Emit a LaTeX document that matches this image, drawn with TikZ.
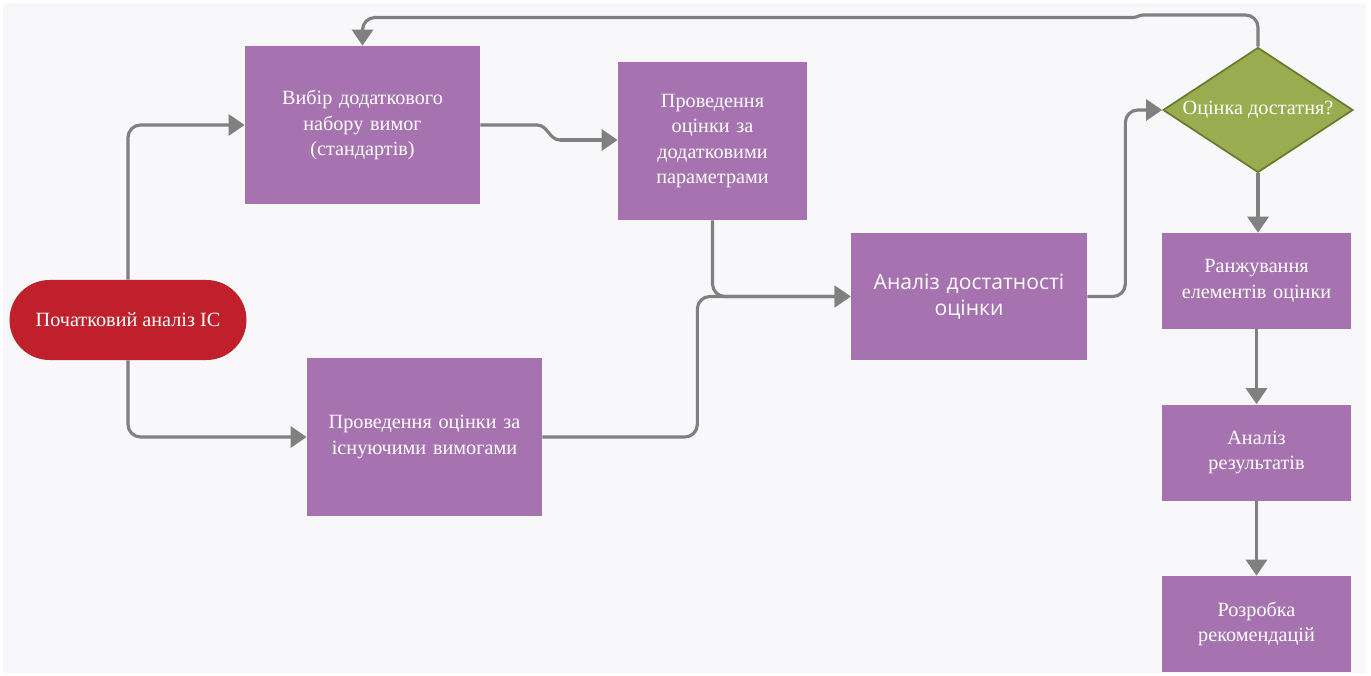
\documentclass[tikz,border=0pt]{standalone}
\usepackage{fontspec}
\setmainfont{Liberation Serif}
\newfontfamily\sansfam{Open Sans}
\usetikzlibrary{arrows.meta, shapes.geometric}
\definecolor{bgcol}{HTML}{F8F8FA}
\definecolor{boxcol}{HTML}{A673B0}
\definecolor{startcol}{HTML}{C0202C}
\definecolor{diacol}{HTML}{9AAC50}
\definecolor{diaedge}{HTML}{6B7A2E}
\definecolor{linecol}{HTML}{808080}

\begin{document}
\begin{tikzpicture}[
        procbox/.style={fill=boxcol, draw=none, text=white, align=center, inner sep=2pt,
            font=\fontsize{11.5}{14.5}\selectfont},
        flow/.style={draw=linecol, line width=1.8pt, rounded corners=0.25cm,
            -{Triangle[length=0.32cm, width=0.42cm]}},
        link/.style={draw=linecol, line width=1.8pt, rounded corners=0.25cm}
    ]
        \useasboundingbox (0,0) rectangle (27.42,13.5);
        \fill[bgcol] (0.06,0.04) rectangle (27.32,13.44);
        \node[fill=startcol, text=white, rounded corners=0.8cm, minimum width=4.74cm, minimum height=1.6cm,
            font=\fontsize{11.5}{14}\selectfont] (start) at (2.56,7.1) {Початковий аналіз IC};
        \node[procbox, minimum width=4.7cm, minimum height=3.16cm, text width=3.8cm] (extra) at (7.25,11.0)
            {Вибір додаткового\\набору вимог\\(стандартів)};
        \node[procbox, minimum width=3.78cm, minimum height=3.16cm, text width=3.4cm] (extraeval) at (14.25,10.68)
            {Проведення\\оцінки за\\додатковими\\параметрами};
        \node[procbox, minimum width=4.7cm, minimum height=3.16cm, text width=4.4cm] (curreval) at (8.49,4.76)
            {Проведення оцінки за\\існуючими вимогами};
        \node[procbox, minimum width=4.72cm, minimum height=2.54cm, text width=4.4cm,
            font=\sansfam\fontsize{12}{15}\selectfont] (suff) at (19.38,7.57)
            {Аналіз достатності\\оцінки};
        \node[diamond, fill=diacol, draw=diaedge, line width=1pt, text=white, inner sep=0pt, aspect=1.52,
            minimum width=3.8cm, minimum height=2.5cm, font=\fontsize{11.5}{14}\selectfont] (enough) at (25.16,11.3)
            {Оцінка достатня?};
        \node[procbox, minimum width=3.78cm, minimum height=1.92cm, text width=3.5cm] (rank) at (25.13,7.88)
            {Ранжування\\елементів оцінки};
        \node[procbox, minimum width=3.78cm, minimum height=1.92cm, text width=3.5cm] (results) at (25.13,4.45)
            {Аналіз\\результатів};
        \node[procbox, minimum width=3.78cm, minimum height=1.92cm, text width=3.5cm] (recom) at (25.13,1.02)
            {Розробка\\рекомендацій};
        \coordinate (bendA) at (10.74,11.0);
        \coordinate (bendB) at (11.2,10.7);
        \coordinate (jogA) at (22.86,13.2);
        \coordinate (jogB) at (22.66,13.15);
        \draw[flow] (start.north) |- (extra.west);
        \draw[flow] (start.south) |- (curreval.west);
        \draw[link, rounded corners=0pt] (extra.east) -- (bendA) to[out=0, in=180] (bendB);
        \draw[flow] (bendB) -- (bendB -| extraeval.west);
        \draw[flow] (extraeval.south) |- (suff.west);
        \draw[flow] (curreval.east) -- ++(3.1,0) |- (suff.west);
        \draw[flow] (suff.east) -- ++(0.76,0) |- (enough.west);
        \draw[link] (enough.north) |- (jogA);
        \draw[link, rounded corners=0pt] (jogA) to[out=180, in=0] (jogB);
        \draw[flow] (jogB) -| (extra.north);
        \draw[flow] (enough.south) -- (enough.south |- rank.north);
        \draw[flow] (rank.south) -- (results.north);
        \draw[flow] (results.south) -- (recom.north);
    \end{tikzpicture}
\end{document}
